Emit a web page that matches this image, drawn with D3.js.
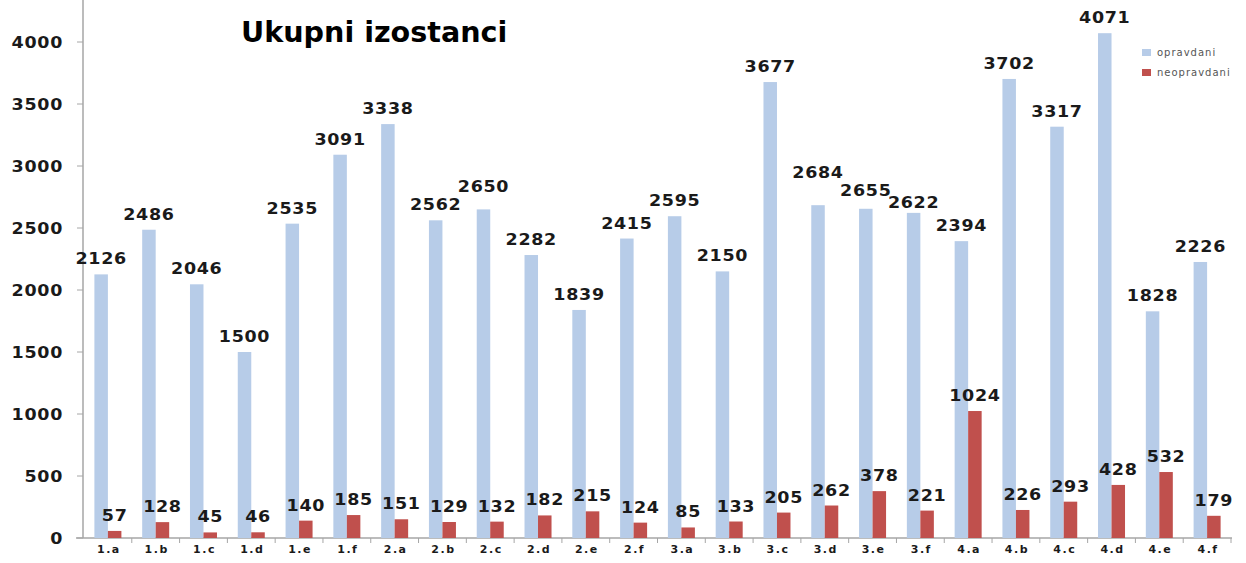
<!DOCTYPE html>
<html>
<head>
<meta charset="utf-8">
<script src="https://cdn.jsdelivr.net/npm/d3@7"></script>
<style>
  body { margin: 0; background: #ffffff; }
  text { font-family: "DejaVu Sans", Verdana, sans-serif; }
  .valueLabel { font-size: 15.5px; font-weight: bold; fill: #1a1a1a; letter-spacing: 0.6px; }
  .tickLabel { font-size: 15.5px; font-weight: bold; fill: #1a1a1a; letter-spacing: 0.6px; }
  .catLabel { font-size: 11px; font-weight: bold; fill: #1a1a1a; letter-spacing: 1.5px; }
  .legendText { font-size: 10px; fill: #555; letter-spacing: 1px; }
  .title { font-size: 27.5px; font-weight: bold; fill: #000; }
</style>
</head>
<body>
<div id="canvas"></div>
<script>
"use strict"
// chart size
let svgWidth = 1246;
let svgHeight = 563;

// data
let categories = ["1.a", "1.b", "1.c", "1.d", "1.e", "1.f",
                  "2.a", "2.b", "2.c", "2.d", "2.e", "2.f",
                  "3.a", "3.b", "3.c", "3.d", "3.e", "3.f",
                  "4.a", "4.b", "4.c", "4.d", "4.e", "4.f"];
let opravdani = [2126, 2486, 2046, 1500, 2535, 3091, 3338, 2562, 2650, 2282, 1839, 2415,
                 2595, 2150, 3677, 2684, 2655, 2622, 2394, 3702, 3317, 4071, 1828, 2226];
let neopravdani = [57, 128, 45, 46, 140, 185, 151, 129, 132, 182, 215, 124,
                   85, 133, 205, 262, 378, 221, 1024, 226, 293, 428, 532, 179];
let yTicks = [0, 500, 1000, 1500, 2000, 2500, 3000, 3500, 4000];
let seriesNames = ["opravdani", "neopravdani"];
let seriesColors = ["#b7cce8", "#c0504d"];

// a few labels were moved by hand in the original so they don't overlap
let labelNudge = { "2.c": 7, "3.d": 17, "3.e": 3, "3.f": -5 };

// the original picture is a bit stretched sideways
let stretch = 1.13;

let svg = d3.select("#canvas")
    .append("svg")
    .attr("width", svgWidth)
    .attr("height", svgHeight);

svg.append("rect")
    .attr("width", svgWidth)
    .attr("height", svgHeight)
    .attr("fill", "#ffffff");

// scales
let xScale = d3.scaleBand()
    .domain(categories)
    .range([84, 1231])
    .paddingInner(0)
    .paddingOuter(0);

let yScale = d3.scaleLinear()
    .domain([0, 4000])
    .range([538, 42]);

let barW = 13.5;

// axes lines
svg.append("line")
    .attr("x1", 83).attr("x2", 83)
    .attr("y1", 0).attr("y2", yScale(0))
    .attr("stroke", "#a6a6a6").attr("stroke-width", 1.5);

svg.append("line")
    .attr("x1", 76).attr("x2", 1232)
    .attr("y1", yScale(0)).attr("y2", yScale(0))
    .attr("stroke", "#a6a6a6").attr("stroke-width", 1.5);

// y ticks
yTicks.forEach(function(t){
    svg.append("line")
        .attr("x1", 77).attr("x2", 83)
        .attr("y1", yScale(t)).attr("y2", yScale(t))
        .attr("stroke", "#a6a6a6");
    svg.append("text")
        .attr("transform", "translate(63," + (yScale(t) + 6) + ") scale(" + stretch + ",1)")
        .attr("text-anchor", "end")
        .attr("class", "tickLabel")
        .text(t);
});

// x ticks between categories
categories.forEach(function(c, i){
    let bx = xScale(c) + xScale.bandwidth();
    svg.append("line")
        .attr("x1", bx).attr("x2", bx)
        .attr("y1", yScale(0)).attr("y2", yScale(0) + 5)
        .attr("stroke", "#a6a6a6");
    svg.append("text")
        .attr("x", xScale(c) + xScale.bandwidth() / 2 + 1)
        .attr("y", 553)
        .attr("text-anchor", "middle")
        .attr("class", "catLabel")
        .text(c);
});

// bars
let series = [opravdani, neopravdani];
series.forEach(function(values, s){
    categories.forEach(function(c, i){
        let cx = xScale(c) + xScale.bandwidth() / 2;
        let x = s == 0 ? cx - barW : cx;
        svg.append("rect")
            .attr("x", x)
            .attr("y", yScale(values[i]))
            .attr("width", barW)
            .attr("height", yScale(0) - yScale(values[i]))
            .attr("fill", seriesColors[s]);
        let lift = 10;
        if (s == 0 && labelNudge[c] !== undefined) lift += labelNudge[c];
        svg.append("text")
            .attr("transform", "translate(" + (x + barW / 2) + "," + (yScale(values[i]) - lift) + ") scale(" + stretch + ",1)")
            .attr("text-anchor", "middle")
            .attr("class", "valueLabel")
            .text(values[i]);
    });
});

// title (slightly wide too)
svg.append("text")
    .attr("transform", "translate(241,42) scale(1.04,1)")
    .attr("class", "title")
    .text("Ukupni izostanci");

// legend
seriesNames.forEach(function(name, i){
    let ly = 55 + i * 20;
    svg.append("rect")
        .attr("x", 1142)
        .attr("y", ly - 6)
        .attr("width", 9)
        .attr("height", 7)
        .attr("fill", seriesColors[i]);
    svg.append("text")
        .attr("x", 1157)
        .attr("y", ly + 1)
        .attr("class", "legendText")
        .text(name);
});
</script>
</body>
</html>
